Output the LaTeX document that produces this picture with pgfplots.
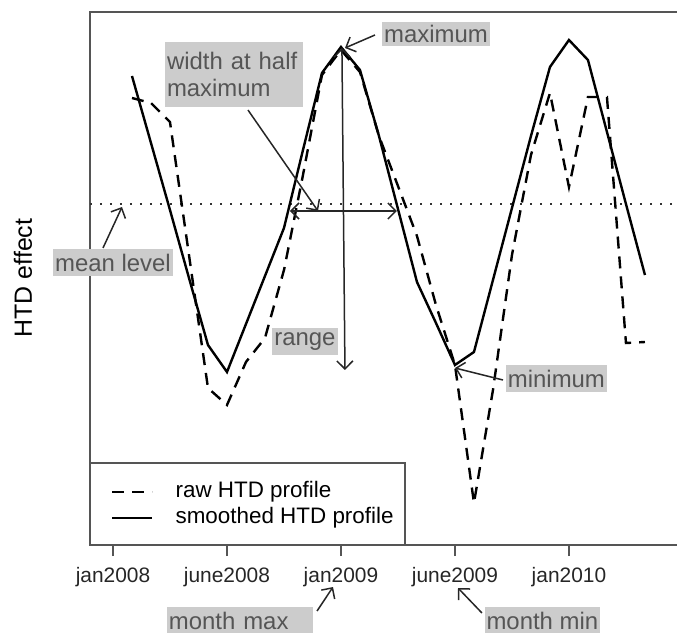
\documentclass[border=0pt]{standalone}
\usepackage{fontspec}
\setmainfont{Liberation Sans}
\usepackage{pgfplots}
\pgfplotsset{compat=1.18}
\usetikzlibrary{arrows.meta}
\definecolor{boxgray}{HTML}{CCCCCC}
\definecolor{boxtext}{HTML}{555555}
\definecolor{framegray}{HTML}{555555}
\tikzset{
  lab/.style={fill=boxgray, text=boxtext, font=\fontsize{24}{28}\selectfont,
    inner xsep=2bp, inner ysep=0bp, align=left},
  barb/.tip={Straight Barb[length=8bp,width=16bp,line width=1.5bp]},
  arr/.style={draw=black!85, line width=1.5bp, -barb},
  darr/.style={draw=black!85, line width=1.5bp, barb-barb},
}
\begin{document}
\begin{tikzpicture}
\useasboundingbox (-90bp,-88bp) rectangle (587bp,545bp);
\begin{axis}[
  at={(0,0)}, anchor=south west,
  scale only axis, width=592bp, height=533bp,
  xmin=-1.21, xmax=29.95, ymin=-3.41, ymax=1.92,
  clip=false,
  axis line style={framegray, line width=1.2bp},
  xtick={0,6,12,18,24},
  xticklabels={jan2008,june2008,jan2009,june2009,jan2010},
  ytick=\empty,
  tick align=outside, xtick pos=bottom, major tick length=11bp,
  tick style={framegray, line width=1.2bp},
  xticklabel style={font=\fontsize{21}{25}\selectfont, text=black!85, yshift=-8bp},
  every axis y label/.style={at={(axis description cs:-0.113,0.501)},
    rotate=90, anchor=center, font=\fontsize{25}{30}\selectfont},
  ylabel={HTD effect},
  legend style={at={(axis cs:-0.105,-2.775)}, anchor=north west,
    draw=none, fill=none, inner sep=0pt, column sep=22bp, row sep=5bp,
    font=\fontsize{22.5}{27}\selectfont,
    nodes={inner sep=0pt, text height=16bp, text depth=5bp}},
  legend cell align=left,
  legend image code/.code={\draw[#1] (0bp,0bp) -- (40bp,0bp);},
]
% mean level
\addplot[black!80, line width=2bp, dash pattern=on 2bp off 8bp, forget plot]
  coordinates {(-1.21,0) (29.95,0)};
% raw profile
\addplot[black, line width=2.4bp, dash pattern=on 12bp off 8bp] coordinates {
(1,1.06) (2,1.01) (3,0.82) (4,-0.51) (5,-1.84) (6,-2.01) (7,-1.58)
(8,-1.34) (9,-0.66) (10,0.29) (11,1.29) (12,1.54) (13,1.32) (14,0.68)
(15,0.18) (16,-0.32) (17,-1.01) (18,-1.61) (19,-2.99) (20,-1.86)
(21,-0.51) (22,0.49) (23,1.11) (24,0.17) (25,1.07) (26,1.07)
(27,-1.39) (28,-1.38)};
% smoothed profile
\addplot[black, line width=2.4bp] coordinates {
(1,1.28) (2,0.61) (3,-0.06) (4,-0.74) (5,-1.41) (6,-1.68) (7,-1.20)
(8,-0.72) (9,-0.24) (10,0.54) (11,1.31) (12,1.57) (13,1.34) (14,0.68)
(15,-0.05) (16,-0.78) (17,-1.19) (18,-1.61) (19,-1.48) (20,-0.76)
(21,-0.04) (22,0.68) (23,1.37) (24,1.64) (25,1.44) (26,0.72)
(27,0.00) (28,-0.71)};
\legend{raw HTD profile, smoothed HTD profile}

% legend frame
\draw[framegray, line width=1.2bp] (axis cs:-1.21,-3.41) rectangle (axis cs:15.37,-2.59);

% annotations
\node[lab, text width=134bp, minimum height=65bp] at (axis cs:6.37,1.295) {width at half\\maximum};
\draw[arr] (axis cs:7.105,0.94) -- (axis cs:10.79,-0.07);
\draw[darr] (axis cs:9.316,-0.07) -- (axis cs:14.947,-0.07);
\draw[darr] (axis cs:12.05,1.56) -- (axis cs:12.21,-1.66);

\node[lab, minimum width=108bp, minimum height=24bp] at (axis cs:17.0,1.70) {maximum};
\draw[arr] (axis cs:13.79,1.69) -- (axis cs:12.21,1.56);

\node[lab, minimum width=120bp, minimum height=27bp] at (axis cs:0,-0.585) {mean level};
\draw[arr] (axis cs:-0.526,-0.44) -- (axis cs:0.474,-0.03);

\node[lab, minimum width=66bp, minimum height=27bp] at (axis cs:10.105,-1.375) {range};

\node[lab, minimum width=101bp, minimum height=27bp] at (axis cs:23.34,-1.745) {minimum};
\draw[arr] (axis cs:20.53,-1.76) -- (axis cs:18.0,-1.64);

\node[lab, text width=142bp, minimum height=27bp] at (axis cs:6.68,-4.165) {month max};
\draw[arr] (axis cs:10.74,-4.07) -- (axis cs:11.58,-3.83);

\node[lab, minimum width=115bp, minimum height=27bp] at (axis cs:22.6,-4.165) {month min};
\draw[arr] (axis cs:19.42,-4.09) -- (axis cs:18.16,-3.84);
\end{axis}
\end{tikzpicture}
\end{document}
